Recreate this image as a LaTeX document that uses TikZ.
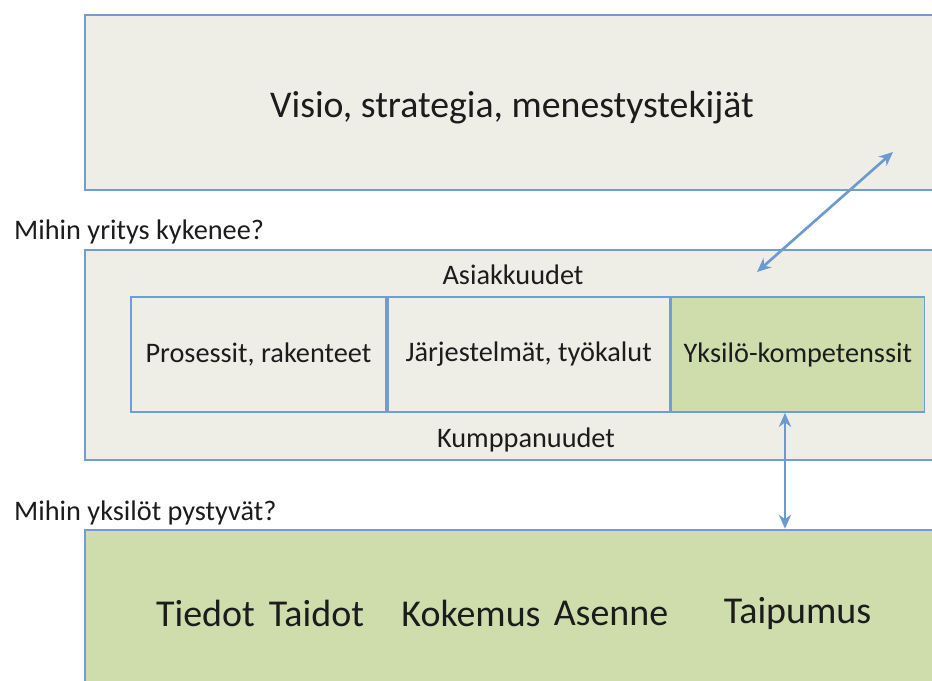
\documentclass[tikz,border=0pt]{standalone}
\usepackage{fontspec}
\setmainfont{Carlito}
\usetikzlibrary{positioning, arrows.meta, calc}

\definecolor{frameblue}{HTML}{729DD2}
\definecolor{linkblue}{HTML}{6B9AD0}
\definecolor{panelbeige}{HTML}{EFEEE6}
\definecolor{traitgreen}{HTML}{CFDDAD}
\definecolor{inktext}{HTML}{1C1C1C}

\begin{document}
\begin{tikzpicture}[
  font=\fontsize{16.1}{19}\selectfont, text=inktext,
  panel/.style={draw=frameblue, line width=1.5pt, fill=panelbeige, inner sep=0pt,
    minimum width=17.08cm},
  cell/.style={draw=frameblue, line width=1pt, fill=panelbeige, inner sep=0pt,
    minimum height=2.3cm},
  link/.style={{Stealth[length=8pt, width=7pt]}-{Stealth[length=8pt, width=7pt]},
    draw=linkblue, line width=1.5pt},
  question/.style={anchor=west, font=\fontsize{16.1}{19}\selectfont},
  trait/.style={font=\fontsize{21.6}{25}\selectfont}
]
\useasboundingbox (0,0) rectangle (18.64,-13.62);
\clip (0,0) rectangle (18.64,-13.62);

% --- three layers ---
\node[panel, minimum height=3.5cm] (vision) at (10.24,-2.05) {};
\node[font=\fontsize{21.5}{25}\selectfont] (visiontext) at (10.24,-2.16)
  {Visio, strategia, menestystekijät};
\node[panel, minimum height=4.2cm] (company) at (10.24,-7.1) {};
\node[panel, minimum height=3.4cm, fill=traitgreen] (personal) at (10.24,-12.3) {};

% questions above the layers
\node[question] (qcompany) at (0.16,-4.64) {Mihin yritys kykenee?};
\node[question] (qpersonal) at (0.16,-10.26) {Mihin yksilöt pystyvät?};

% --- company capabilities ---
\node (clients) at (10.26,-5.5) {Asiakkuudet};
\node (partners) at (10.52,-8.8) {Kumppanuudet};
\node[cell, minimum width=5.1cm, anchor=west] (procs) at (2.6,-7.09) {Prosessit, rakenteet};
\node[cell, minimum width=5.64cm, right=0pt of procs] (systems) {Järjestelmät, työkalut};
\node[cell, minimum width=5.06cm, right=0pt of systems, fill=traitgreen] (skills) {Yksilö-kompetenssit};

% --- individual traits ---
\node[trait] (knowledge) at (4.11,-12.26) {Tiedot};
\node[trait] (abilities) at (6.33,-12.26) {Taidot};
\node[trait] (experience) at (9.42,-12.26) {Kokemus};
\node[trait] (attitude) at (12.22,-12.26) {Asenne};
\node[trait] (aptitude) at (15.95,-12.26) {Taipumus};

% links between the layers
\coordinate (vtop) at (17.86,-3.04);
\coordinate (vbot) at (15.14,-5.44);
\coordinate (vline) at (15.7,0);
\draw[link] (vtop) -- (vbot);
\draw[link] (skills.south -| vline) -- (personal.north -| vline);

\end{tikzpicture}
\end{document}
